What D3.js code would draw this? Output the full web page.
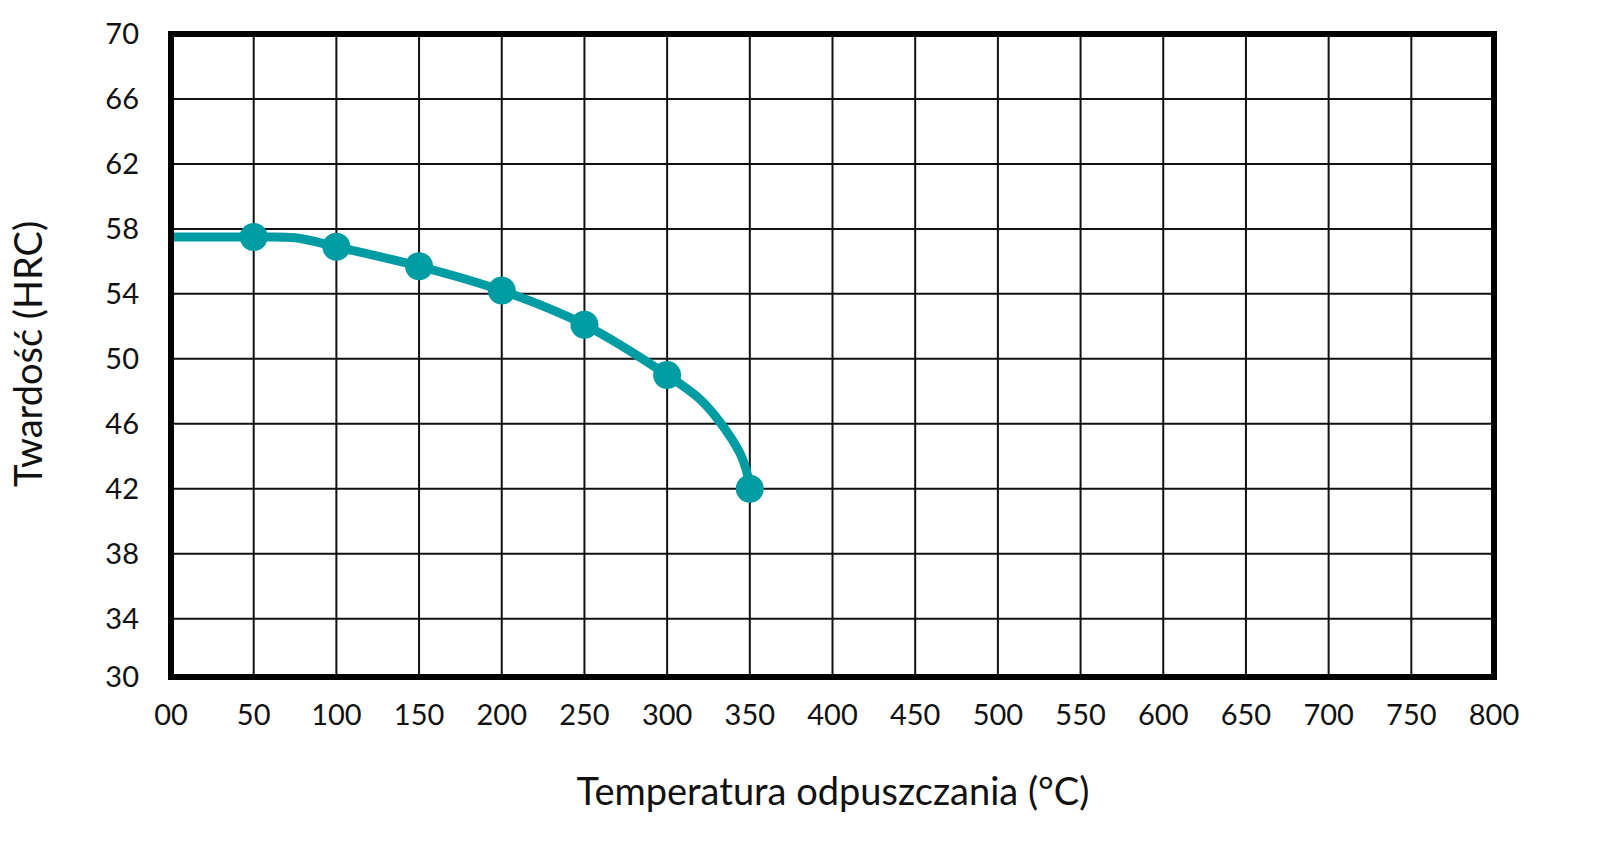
<!DOCTYPE html>
<html>
<head>
<meta charset="utf-8">
<script src="https://cdn.jsdelivr.net/npm/d3@7"></script>
<style>
  body { margin: 0; background: #fff; }
  text { font-family: Lato, "Noto Sans", sans-serif; fill: #111; }
</style>
</head>
<body>
<div id="chart"></div>
<script>
(function() {
    'use strict';

    // tick values
    const xTicks = [0, 50, 100, 150, 200, 250, 300, 350, 400, 450, 500, 550, 600, 650, 700, 750, 800];
    const xTickLabels = ["00", "50", "100", "150", "200", "250", "300", "350", "400", "450", "500", "550", "600", "650", "700", "750", "800"];
    const yTicks = [30, 34, 38, 42, 46, 50, 54, 58, 62, 66, 70];

    // measured points (temperature, HRC)
    const markerTemps = [50, 100, 150, 200, 250, 300, 350];
    const markerHrc = [57.5, 56.9, 55.7, 54.2, 52.1, 49.0, 42.0];

    // curve as drawn
    const curveTemps = [0, 50, 75, 100, 150, 200, 250, 300, 320, 332, 344, 348, 350];
    const curveHrc = [57.5, 57.5, 57.45, 56.9, 55.7, 54.2, 52.1, 49.0, 47.5, 46.1, 44.2, 43.1, 42.0];

    const width = 1621;
    const height = 862;

    const svg = d3.select("#chart")
        .append("svg")
        .attr("width", width)
        .attr("height", height);

    const x = d3.scaleLinear().domain([0, 800]).range([171, 1494]);
    // bottom band is a bit squeezed in the original
    const y = d3.scaleLinear().domain([30, 34, 70]).range([677, 618.7, 34]);

    // grid
    svg.append("g")
        .selectAll("line")
        .data(xTicks)
        .enter()
        .append("line")
        .attr("x1", d => x(d))
        .attr("x2", d => x(d))
        .attr("y1", y(70))
        .attr("y2", y(30))
        .attr("stroke", "#111")
        .attr("stroke-width", 2);

    svg.append("g")
        .selectAll("line")
        .data(yTicks)
        .enter()
        .append("line")
        .attr("x1", x(0))
        .attr("x2", x(800))
        .attr("y1", d => y(d))
        .attr("y2", d => y(d))
        .attr("stroke", "#111")
        .attr("stroke-width", 2);

    // curve
    const pts = curveTemps.map((t, i) => [t, curveHrc[i]]);
    const line = d3.line()
        .x(d => x(d[0]))
        .y(d => y(d[1]))
        .curve(d3.curveCatmullRom.alpha(0.5));

    svg.append("path")
        .datum(pts)
        .attr("d", line)
        .attr("fill", "none")
        .attr("stroke", "#009ca3")
        .attr("stroke-width", 9)
        .attr("stroke-linejoin", "round");

    // frame
    svg.append("rect")
        .attr("x", x(0))
        .attr("y", y(70))
        .attr("width", x(800) - x(0))
        .attr("height", y(30) - y(70))
        .attr("fill", "none")
        .attr("stroke", "#000")
        .attr("stroke-width", 6);

    // markers
    svg.append("g")
        .selectAll("circle")
        .data(markerTemps)
        .enter()
        .append("circle")
        .attr("cx", d => x(d))
        .attr("cy", (d, i) => y(markerHrc[i]))
        .attr("r", 14)
        .attr("fill", "#009ca3");

    // tick labels
    svg.append("g")
        .selectAll("text")
        .data(xTicks)
        .enter()
        .append("text")
        .attr("x", d => x(d))
        .attr("y", 725)
        .attr("text-anchor", "middle")
        .attr("font-size", 29)
        .text((d, i) => xTickLabels[i]);

    svg.append("g")
        .selectAll("text")
        .data(yTicks)
        .enter()
        .append("text")
        .attr("x", 139)
        .attr("y", d => y(d) + 10)
        .attr("text-anchor", "end")
        .attr("font-size", 29)
        .text(d => d);

    // axis titles
    svg.append("text")
        .attr("x", 833)
        .attr("y", 805)
        .attr("text-anchor", "middle")
        .attr("font-size", 38)
        .text("Temperatura odpuszczania (°C)");

    svg.append("text")
        .attr("transform", "translate(42,354) rotate(-90)")
        .attr("text-anchor", "middle")
        .attr("font-size", 38)
        .text("Twardość (HRC)");
})();
</script>
</body>
</html>
